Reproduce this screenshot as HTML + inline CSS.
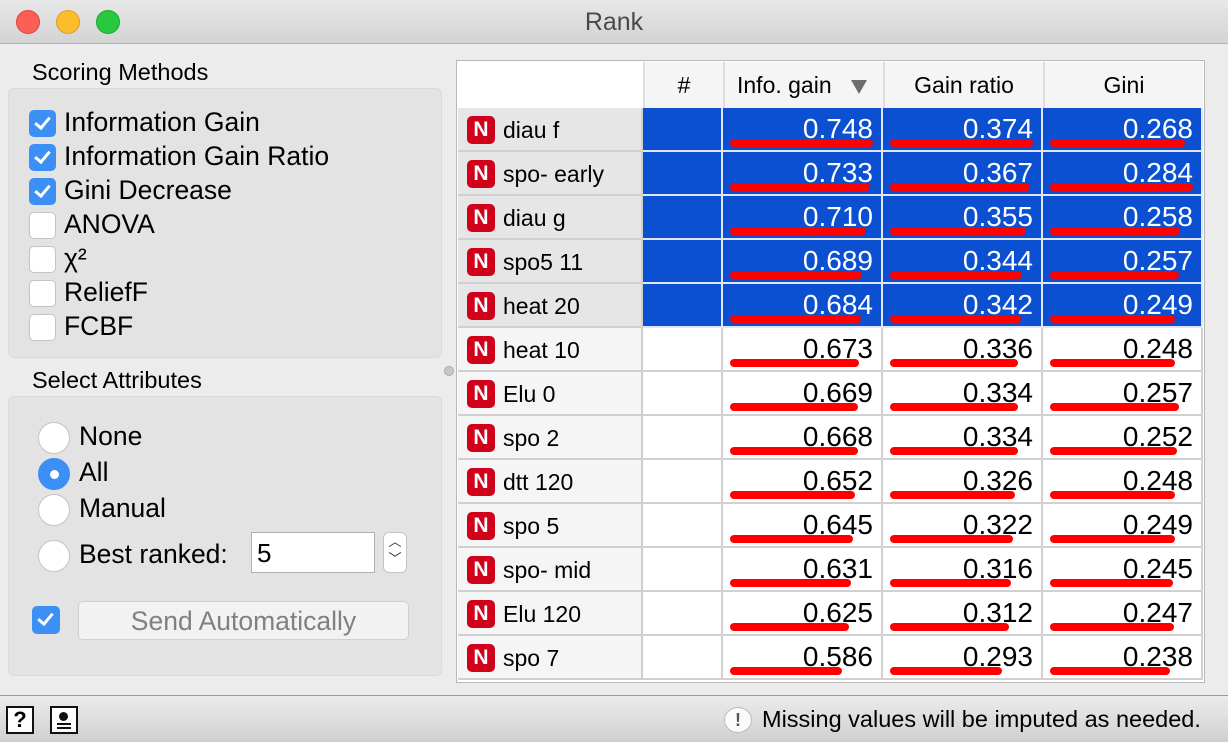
<!DOCTYPE html>
<html><head><meta charset="utf-8">
<style>
*{box-sizing:border-box;margin:0;padding:0}
body{width:1228px;height:742px;overflow:hidden;background:#ececec;font-family:"Liberation Sans",sans-serif;position:relative;color:#000}
.abs{position:absolute}
.t{position:absolute;white-space:nowrap}
.cb{position:absolute;width:25px;height:25px;border-radius:5px;background:#fff;border:1px solid #c4c4c4}
.cb.on{background:#3b8ff5;border-color:#3b8ff5}
.cb.on::after{content:"";position:absolute;left:8px;top:3px;width:6px;height:12px;border:solid #fff;border-width:0 3px 3px 0;transform:rotate(40deg)}
.rb{position:absolute;width:32px;height:32px;border-radius:50%;background:#fff;border:1px solid #c4c4c4}
.rb.on{background:#3b8ff5;border-color:#3b8ff5}
.rb.on::after{content:"";position:absolute;left:11px;top:11px;width:9px;height:9px;border-radius:50%;background:#fff}
.lbl{font-size:26.5px}
</style></head><body>
<div class="abs" style="left:0;top:0;width:1228px;height:44px;background:linear-gradient(#e8e8e8,#d3d3d3);border-bottom:1px solid #b4b4b4">
  <div class="abs" style="left:16px;top:10px;width:24px;height:24px;border-radius:50%;background:#fc5f57;border:1px solid #e0443e"></div>
  <div class="abs" style="left:56px;top:10px;width:24px;height:24px;border-radius:50%;background:#fdbc2e;border:1px solid #dea123"></div>
  <div class="abs" style="left:96px;top:10px;width:24px;height:24px;border-radius:50%;background:#28c840;border:1px solid #1aab29"></div>
  <div class="t" style="left:0;width:1228px;text-align:center;top:8px;font-size:25px;color:#4a4a4a">Rank</div>
</div>

<div class="t" style="left:32px;top:59px;font-size:23.5px">Scoring Methods</div>
<div class="abs" style="left:8px;top:88px;width:434px;height:270px;background:#e3e3e3;border:1px solid #dadada;border-radius:6px"></div>
<div id="methods"></div>

<div class="t" style="left:32px;top:367px;font-size:23.5px">Select Attributes</div>
<div class="abs" style="left:8px;top:396px;width:434px;height:280px;background:#e3e3e3;border:1px solid #dadada;border-radius:6px"></div>
<div class="rb" style="left:38px;top:422px"></div>
<div class="t lbl" style="left:79px;top:421px">None</div>
<div class="rb on" style="left:38px;top:458px"></div>
<div class="t lbl" style="left:79px;top:457px">All</div>
<div class="rb" style="left:38px;top:494px"></div>
<div class="t lbl" style="left:79px;top:493px">Manual</div>
<div class="rb" style="left:38px;top:540px"></div>
<div class="t lbl" style="left:79px;top:539px">Best ranked:</div>
<div class="abs" style="left:251px;top:532px;width:124px;height:41px;background:#fff;border:1px solid #b0b0b0"><span class="t" style="left:5px;top:5px;font-size:26px">5</span></div>
<div class="abs" style="left:383px;top:532px;width:24px;height:41px;background:#fff;border:1px solid #c4c4c4;border-radius:6px;font-size:13px;text-align:center;line-height:17px;color:#333">︿<br>﹀</div>
<div class="cb on" style="left:32px;top:606px;width:28px;height:28px"></div>
<div class="abs" style="left:78px;top:601px;width:331px;height:39px;background:#f2f2f2;border:1px solid #d0d0d0;border-radius:5px;text-align:center;font-size:26.5px;line-height:38px;color:#808080">Send Automatically</div>

<div class="abs" style="left:444px;top:366px;width:10px;height:10px;border-radius:50%;background:#c8c8c8;border:1px solid #aaa"></div>

<div class="abs" style="left:456px;top:60px;width:749px;height:623px;background:#fff;border:1px solid #b8b8b8"></div>
<div id="table"></div>

<div class="abs" style="left:0;top:695px;width:1228px;height:47px;background:linear-gradient(#ececec,#cfcfcf);border-top:1px solid #9a9a9a">
  <div class="abs" style="left:6px;top:10px;width:28px;height:28px;border:2px solid #111;background:#fff;font-weight:bold;font-size:22px;text-align:center;line-height:24px">?</div>
  <div class="abs" style="left:50px;top:10px;width:28px;height:28px;border:2px solid #111;background:#fff">
    <div class="abs" style="left:7px;top:4px;width:9px;height:9px;border-radius:50%;background:#111"></div>
    <div class="abs" style="left:5px;top:15px;width:14px;height:2px;background:#111"></div>
    <div class="abs" style="left:5px;top:19px;width:14px;height:2px;background:#111"></div>
  </div>
  <div class="abs" style="left:724px;top:11px;width:28px;height:26px;border-radius:50%;background:#fafafa;border:1px solid #bbb;text-align:center;font-weight:bold;font-size:18px;line-height:24px;color:#555">!</div>
  <div class="t" style="left:762px;top:10px;font-size:23.5px">Missing values will be imputed as needed.</div>
</div>

<script>
const methodNames=["Information Gain","Information Gain Ratio","Gini Decrease","ANOVA","χ²","ReliefF","FCBF"];
const methodChecked=[true,true,true,false,false,false,false];
const attrNames=["diau f","spo- early","diau g","spo5 11","heat 20","heat 10","Elu 0","spo 2","dtt 120","spo 5","spo- mid","Elu 120","spo 7"];
const infoGain=[0.748,0.733,0.710,0.689,0.684,0.673,0.669,0.668,0.652,0.645,0.631,0.625,0.586];
const gainRatio=[0.374,0.367,0.355,0.344,0.342,0.336,0.334,0.334,0.326,0.322,0.316,0.312,0.293];
const gini=[0.268,0.284,0.258,0.257,0.249,0.248,0.257,0.252,0.248,0.249,0.245,0.247,0.238];
const headers=["#","Info. gain","Gain ratio","Gini"];
const selectedCount=5;

const m=document.getElementById('methods');
methodNames.forEach((n,i)=>{
  const y=110+i*34;
  const c=document.createElement('div');
  c.className='cb'+(methodChecked[i]?' on':'');
  c.style.left='29px';c.style.top=y+'px';c.style.width='27px';c.style.height='27px';
  
  
  m.appendChild(c);
  const l=document.createElement('div');
  l.className='t lbl';l.textContent=n;l.style.left='64px';l.style.top=(y-3)+'px';
  
  
  m.appendChild(l);
});

const T=document.getElementById('table');
const colX=[643,723,883,1043,1203];
const rowTop=108,rowH=44,nameX=458;
function add(el){T.appendChild(el);return el;}
function div(css){const d=document.createElement('div');d.className='abs';d.style.cssText=css;return d;}
headers.forEach((h,i)=>{
  const d=add(div(`left:${colX[i]}px;top:62px;width:${colX[i+1]-colX[i]}px;height:46px;background:#f5f5f5;border-left:2px solid #ddd;font-size:23px;line-height:46px;text-align:center`));
  d.textContent=h;
  
  
  if(i===1){d.style.textAlign='left';d.style.paddingLeft='12px';
    const a=div('left:126px;top:18px;width:0;height:0;border-left:8px solid transparent;border-right:8px solid transparent;border-top:14px solid #6e6e6e');
    
    
    d.appendChild(a);}
});
const cols=[infoGain,gainRatio,gini];
const maxes=cols.map(c=>Math.max(...c));
const barMax=143;
attrNames.forEach((n,r)=>{
  const y=rowTop+r*rowH, sel=r<selectedCount;
  const rh=add(div(`left:${nameX}px;top:${y}px;width:${colX[0]-nameX}px;height:${rowH}px;background:${sel?'#e6e6e6':'#f5f5f5'};border-bottom:2px solid #d0d0d0;border-right:2px solid #d0d0d0`));
  
  
  const ic=div('left:9px;top:8px;width:28px;height:28px;border-radius:5px;background:#d0021b;color:#fff;font-weight:bold;font-size:21px;text-align:center;line-height:28px');
  ic.textContent='N';
  
  
  rh.appendChild(ic);
  const nt=div('left:45px;top:9px;font-size:23px;white-space:nowrap');
  nt.textContent=n;
  
  
  rh.appendChild(nt);
  const hc=add(div(`left:${colX[0]}px;top:${y}px;width:${colX[1]-colX[0]}px;height:${rowH}px;background:${sel?'#0a50d0':'#fff'};border-bottom:2px solid ${sel?'#e0e6f5':'#d0d0d0'};border-right:2px solid ${sel?'#e0e6f5':'#d0d0d0'}`));
  
  
  cols.forEach((vals,c)=>{
    const x=colX[c+1],w=colX[c+2]-x;
    const cell=add(div(`left:${x}px;top:${y}px;width:${w}px;height:${rowH}px;background:${sel?'#0a50d0':'#fff'};border-bottom:2px solid ${sel?'#e0e6f5':'#d0d0d0'};border-right:2px solid ${sel?'#e0e6f5':'#d0d0d0'}`));
    
    
    const bar=div(`left:7px;top:31px;width:${vals[r]/maxes[c]*barMax}px;height:8px;border-radius:4px;background:#ff0000`);
    
    
    cell.appendChild(bar);
    const tx=div(`right:8px;top:5px;font-size:28px;color:${sel?'#fff':'#000'}`);
    tx.textContent=vals[r].toFixed(3);
    
    
    cell.appendChild(tx);
  });
});
</script>
</body></html>
